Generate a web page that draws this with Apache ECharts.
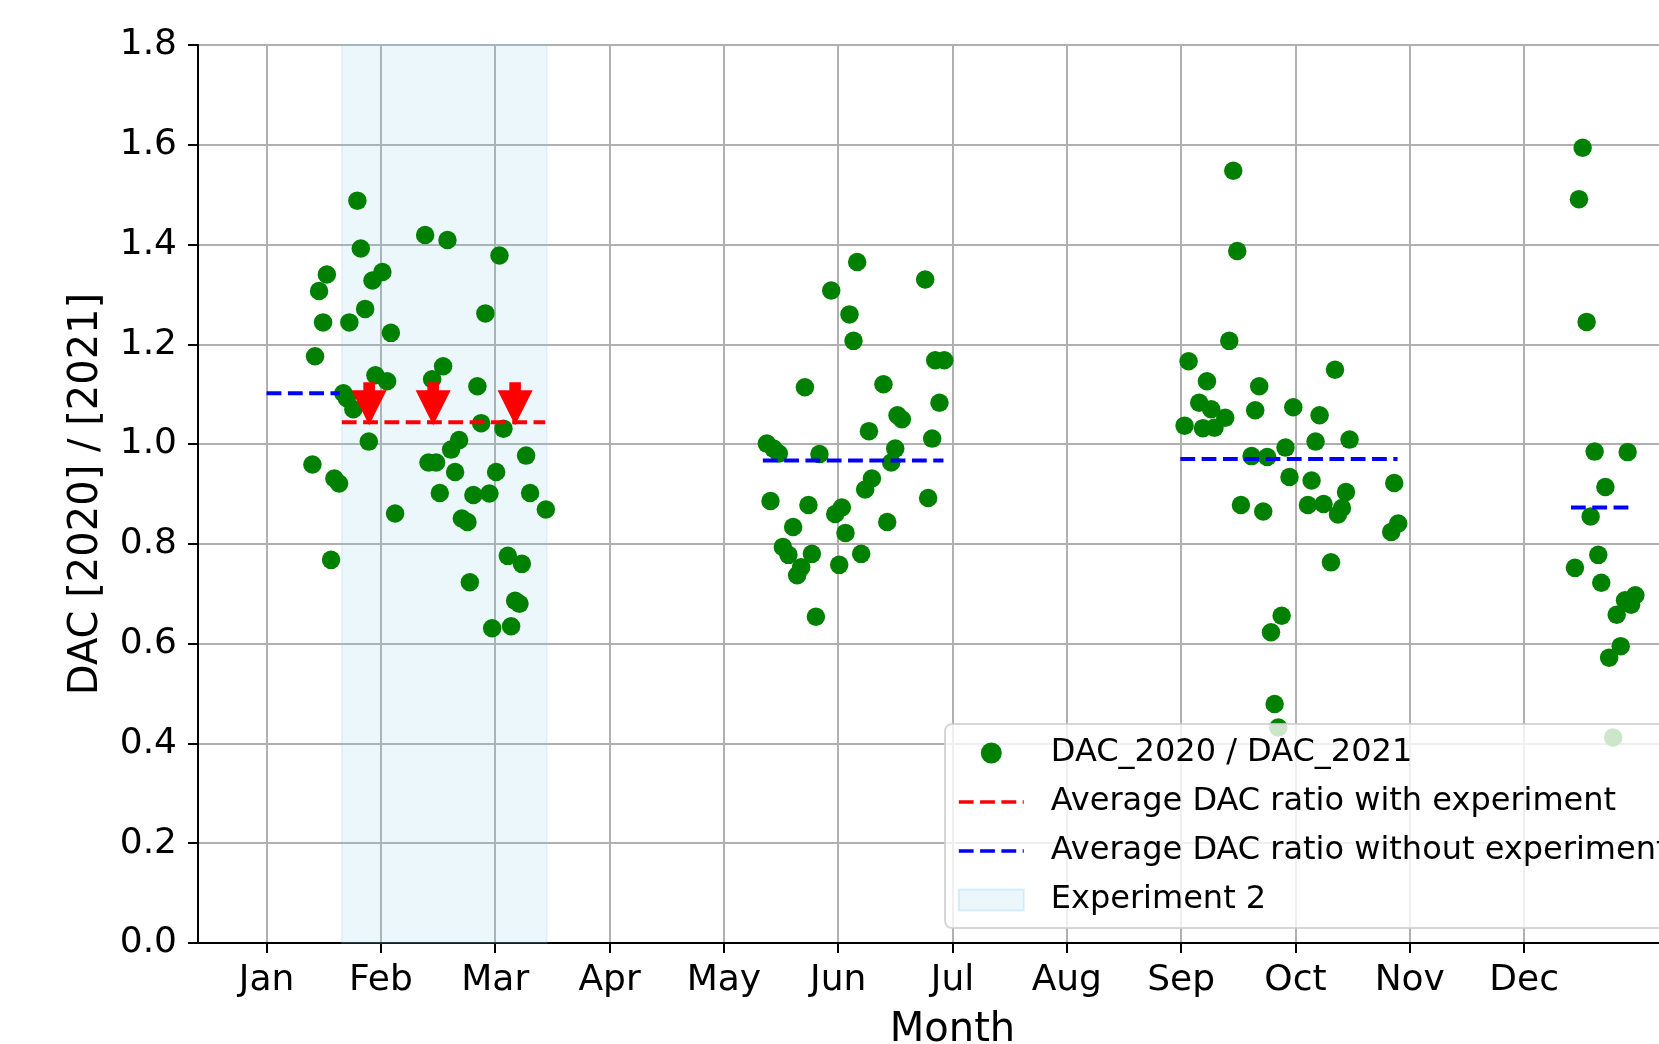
<!DOCTYPE html>
<html>
<head>
<meta charset="utf-8">
<script src="https://cdn.jsdelivr.net/npm/echarts@6/dist/echarts.min.js"></script>
<style>
  html, body { margin: 0; padding: 0; background: #fff; }
  #chart { width: 1659px; height: 1044px; }
</style>
</head>
<body>
<div id="chart"></div>
<script>
// month position (Jan = 1) and DAC ratio 2020/2021
const winterPoints = [
  [1.794, 1.488], [2.387, 1.419], [2.582, 1.409], [3.037, 1.378], [1.824, 1.392],
  [1.527, 1.340], [1.459, 1.307], [1.926, 1.328], [2.013, 1.345], [1.862, 1.271],
  [1.494, 1.244], [1.724, 1.244], [2.087, 1.223], [2.914, 1.262], [1.424, 1.176],
  [1.952, 1.138], [2.054, 1.126], [2.544, 1.156], [2.448, 1.130], [2.844, 1.116],
  [1.672, 1.102], [1.702, 1.092], [1.759, 1.070], [2.877, 1.042], [3.072, 1.031],
  [1.894, 1.005], [2.684, 1.008], [2.614, 0.989], [1.401, 0.959], [2.416, 0.963],
  [2.483, 0.963], [3.270, 0.977], [2.649, 0.944], [3.008, 0.944], [1.593, 0.931],
  [1.634, 0.921], [2.515, 0.902], [2.809, 0.898], [2.949, 0.901], [3.305, 0.902],
  [3.443, 0.869], [2.124, 0.861], [2.708, 0.851], [2.757, 0.844], [1.564, 0.768],
  [3.110, 0.776], [3.233, 0.760], [2.778, 0.723], [3.174, 0.686], [3.212, 0.680],
  [2.973, 0.631], [3.139, 0.635]
];
const summerPoints = [
  [6.166, 1.365], [6.761, 1.330], [5.939, 1.308], [6.099, 1.260], [6.134, 1.207],
  [6.849, 1.168], [6.928, 1.168], [5.709, 1.114], [6.396, 1.120], [6.886, 1.083],
  [6.519, 1.058], [6.557, 1.050], [6.269, 1.026], [6.822, 1.011], [5.376, 1.001],
  [5.434, 0.991], [5.481, 0.981], [5.836, 0.980], [6.499, 0.991], [6.464, 0.963],
  [6.295, 0.931], [6.236, 0.909], [5.408, 0.886], [5.740, 0.878], [6.787, 0.892],
  [6.032, 0.873], [5.974, 0.860], [5.606, 0.834], [6.064, 0.822], [6.429, 0.844],
  [5.516, 0.794], [5.565, 0.778], [5.770, 0.780], [6.201, 0.780], [5.676, 0.753],
  [5.641, 0.737], [6.009, 0.758], [5.805, 0.654]
];
const autumnPoints = [
  [9.456, 1.548], [9.491, 1.387], [9.421, 1.207], [9.065, 1.166], [10.346, 1.149],
  [9.226, 1.126], [9.683, 1.116], [9.158, 1.083], [9.263, 1.070], [9.386, 1.053],
  [9.648, 1.068], [9.981, 1.074], [10.211, 1.058], [9.030, 1.037], [9.191, 1.032],
  [9.292, 1.033], [10.176, 1.005], [10.473, 1.009], [9.913, 0.993], [9.616, 0.976],
  [9.753, 0.974], [9.948, 0.934], [10.141, 0.927], [10.864, 0.922], [10.442, 0.904],
  [9.523, 0.878], [9.718, 0.865], [10.109, 0.878], [10.246, 0.880], [10.407, 0.872],
  [10.372, 0.859], [10.899, 0.841], [10.838, 0.824], [10.311, 0.763], [9.879, 0.656],
  [9.786, 0.623], [9.818, 0.479], [9.850, 0.432]
];
const decemberPoints = [
  [12.512, 1.594], [12.480, 1.491], [12.547, 1.245], [12.617, 0.985], [12.906, 0.984],
  [12.711, 0.914], [12.582, 0.855], [12.649, 0.778], [12.445, 0.752], [12.675, 0.722],
  [12.883, 0.687], [12.973, 0.697], [12.936, 0.678], [12.810, 0.658], [12.845, 0.595],
  [12.744, 0.572], [12.779, 0.412]
];

// averages
const withExperiment = [[1.658, 1.044], [3.437, 1.044]];
const withoutExperiment = [
  [[1.0, 1.102], [1.64, 1.102]],
  [[5.341, 0.967], [6.921, 0.967]],
  [[8.993, 0.970], [10.893, 0.970]],
  [[12.410, 0.873], [12.914, 0.873]]
];
const experimentSpan = [[1.658, 3.451]];
// arrows: month position, start ratio, tip ratio
const arrows = [[1.897, 1.124, 1.038], [2.457, 1.124, 1.038], [3.174, 1.124, 1.038]];

const months = ['Jan', 'Feb', 'Mar', 'Apr', 'May', 'Jun', 'Jul', 'Aug', 'Sep', 'Oct', 'Nov', 'Dec'];
const monthTicks = [1, 2, 3, 4, 5, 6, 7, 8, 9, 10, 11, 12];

const FONT = 'DejaVu Sans';
const NAME_PTS = 'DAC_2020 / DAC_2021';
const NAME_WITH = 'Average DAC ratio with experiment';
const NAME_WITHOUT = 'Average DAC ratio without experiment';
const NAME_EXP = 'Experiment 2';

const dash = [14.8, 6.5];
const noDot = { color: 'rgba(0,0,0,0)', borderWidth: 0 };

const chart = echarts.init(document.getElementById('chart'));

const series = [];

series.push({
  name: NAME_EXP,
  type: 'custom',
  data: experimentSpan,
  itemStyle: { color: 'rgba(135,206,235,0.16)' },
  renderItem: (params, api) => {
    const p0 = api.coord([api.value(0), 1.8]);
    const p1 = api.coord([api.value(1), 0]);
    return {
      type: 'rect',
      shape: { x: p0[0], y: p0[1], width: p1[0] - p0[0], height: p1[1] - p0[1] },
      style: { fill: 'rgba(135,206,235,0.16)', stroke: 'rgba(135,206,235,0.22)', lineWidth: 1.5 }
    };
  },
  z: 1
});

series.push({
  name: NAME_PTS,
  type: 'scatter',
  data: winterPoints.concat(summerPoints, autumnPoints, decemberPoints),
  symbol: 'circle',
  symbolSize: 18.5,
  itemStyle: { color: '#008000', opacity: 1 },
  z: 2
});

series.push({
  name: NAME_WITH,
  type: 'line',
  data: withExperiment,
  symbol: 'none',
  itemStyle: noDot,
  lineStyle: { color: '#ff0000', width: 4, type: dash },
  z: 3
});

withoutExperiment.forEach(seg => {
  series.push({
    name: NAME_WITHOUT,
    type: 'line',
    data: seg,
    symbol: 'none',
    itemStyle: noDot,
    lineStyle: { color: '#0000ff', width: 4, type: dash },
    z: 3
  });
});

series.push({
  name: 'arrows',
  type: 'custom',
  data: arrows,
  renderItem: (params, api) => {
    const top = api.coord([api.value(0), api.value(1)]);
    const tip = api.coord([api.value(0), api.value(2)]);
    const x = tip[0];
    const headLen = 35, headW = 17.5, stemW = 5.8;
    const baseY = tip[1] - headLen;
    return {
      type: 'polygon',
      shape: {
        points: [
          [x - stemW, top[1]], [x + stemW, top[1]], [x + stemW, baseY], [x + headW, baseY],
          [x, tip[1]], [x - headW, baseY], [x - stemW, baseY]
        ]
      },
      style: { fill: '#ff0000' }
    };
  },
  z: 4
});

const option = {
  animation: false,
  backgroundColor: '#fff',
  textStyle: { fontFamily: FONT },
  grid: {
    left: 198,
    top: 45,
    bottom: 101,
    right: -48,
    containLabel: false,
    outerBoundsMode: 'none',
    show: true,
    borderColor: '#000',
    borderWidth: 2,
    backgroundColor: 'transparent'
  },
  legend: {
    orient: 'vertical',
    left: 945,
    top: 724,
    padding: [13, 14, 12, 12],
    itemGap: 17,
    itemWidth: 65,
    itemHeight: 21,
    backgroundColor: 'rgba(255,255,255,0.8)',
    borderColor: 'rgba(204,204,204,0.8)',
    borderWidth: 2,
    borderRadius: 7,
    textStyle: { fontFamily: FONT, fontSize: 32, color: '#000', padding: [0, 0, 0, 22] },
    lineStyle: { width: 3.6 },
    data: [
      { name: NAME_PTS, icon: 'circle' },
      { name: NAME_WITH, icon: 'inherit' },
      { name: NAME_WITHOUT, icon: 'inherit' },
      {
        name: NAME_EXP,
        icon: 'rect',
        itemStyle: { color: 'rgba(135,206,235,0.16)', borderColor: 'rgba(135,206,235,0.3)', borderWidth: 2 }
      }
    ],
    selectedMode: false,
    z: 10
  },
  xAxis: {
    type: 'value',
    min: 0.4,
    max: 13.6,
    name: 'Month',
    nameLocation: 'middle',
    nameGap: 68,
    nameTextStyle: { fontFamily: FONT, fontSize: 40, color: '#000' },
    axisLine: { show: true, lineStyle: { color: '#000', width: 2 } },
    axisTick: { show: true, length: 10, lineStyle: { color: '#000', width: 2 }, customValues: monthTicks },
    axisLabel: {
      customValues: monthTicks,
      margin: 20,
      fontFamily: FONT,
      fontSize: 36,
      color: '#000',
      formatter: v => months[Math.round(v) - 1]
    },
    splitLine: { show: true, lineStyle: { color: '#b0b0b0', width: 2 } }
  },
  yAxis: {
    type: 'value',
    min: 0,
    max: 1.8,
    interval: 0.2,
    name: 'DAC [2020] / [2021]',
    nameLocation: 'middle',
    nameGap: 91,
    nameTextStyle: { fontFamily: FONT, fontSize: 40, color: '#000' },
    axisLine: { show: true, lineStyle: { color: '#000', width: 2 } },
    axisTick: { show: true, length: 10, lineStyle: { color: '#000', width: 2 } },
    axisLabel: {
      margin: 21,
      fontFamily: FONT,
      fontSize: 36,
      color: '#000',
      formatter: v => v.toFixed(1)
    },
    splitLine: { show: true, lineStyle: { color: '#b0b0b0', width: 2 } }
  },
  series: series
};

chart.setOption(option);
</script>
</body>
</html>
